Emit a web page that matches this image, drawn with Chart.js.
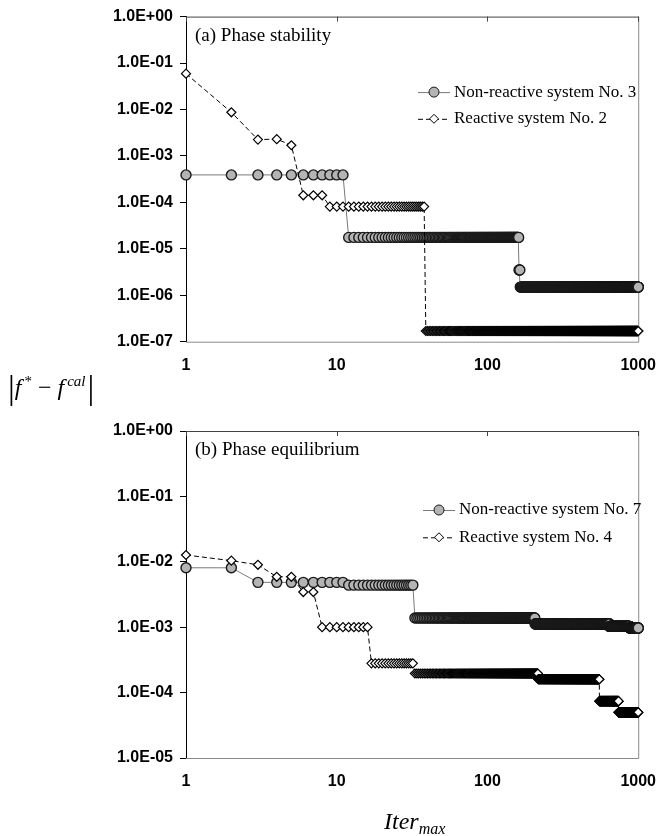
<!DOCTYPE html>
<html lang="en">
<head>
    <meta charset="UTF-8">
    <title>Iter max convergence</title>
    <style>
        body {
            margin: 0;
            background: #fff;
        }
        #page {
            position: relative;
            width: 670px;
            height: 836px;
        }
        .panel {
            position: absolute;
            left: 0;
            width: 670px;
        }
        #yTitle {
            position: absolute;
            left: 8px;
            top: 369px;
            font-family: 'Liberation Serif', serif;
            font-size: 24px;
            color: #000;
            white-space: nowrap;
        }
        #yTitle .bar {
            font-style: normal;
            font-size: 34px;
            vertical-align: -4px;
        }
        #yTitle sup {
            font-size: 15px;
            vertical-align: 9px;
            margin-left: 3px;
        }
        #yTitle .end {
            margin-left: 2px;
        }
        #xTitle {
            position: absolute;
            left: 384px;
            top: 808px;
            font-family: 'Liberation Serif', serif;
            font-style: italic;
            font-size: 24px;
            color: #000;
            white-space: nowrap;
        }
        #xTitle sub {
            font-size: 16px;
            vertical-align: -5px;
        }
    </style>
    <script src="https://cdn.jsdelivr.net/npm/chart.js"></script>
</head>
<body>
<div id="page">
    <div class="panel" style="top:0;height:395px"><canvas id="chartA"></canvas></div>
    <div class="panel" style="top:395px;height:441px"><canvas id="chartB"></canvas></div>
    <div id="yTitle"><span class="bar">|</span><i>f</i><sup>*</sup> &minus; <i>f</i><sup><i>cal</i></sup><span class="bar end">|</span></div>
    <div id="xTitle">Iter<sub>max</sub></div>
</div>

<script>
    // axes
    const lastIter = 1000;
    const xTickValues = [1, 10, 100, 1000];
    const xTickLabels = ['1', '10', '100', '1000'];
    const yTickValuesA = [1e-7, 1e-6, 1e-5, 1e-4, 1e-3, 1e-2, 1e-1, 1];
    const yTickLabelsA = ['1.0E-07', '1.0E-06', '1.0E-05', '1.0E-04', '1.0E-03', '1.0E-02', '1.0E-01', '1.0E+00'];
    const yTickValuesB = [1e-5, 1e-4, 1e-3, 1e-2, 1e-1, 1];
    const yTickLabelsB = ['1.0E-05', '1.0E-04', '1.0E-03', '1.0E-02', '1.0E-01', '1.0E+00'];

    // every series is a staircase: iteration where a level starts, and the level
    // (a) phase stability
    const nonReactive3Start = [1, 12, 162, 165];
    const nonReactive3Value = [3.9e-4, 1.76e-5, 3.5e-6, 1.5e-6];
    const reactive2Start = [1, 2, 3, 4, 5, 6, 9, 39];
    const reactive2Value = [5.9e-2, 8.7e-3, 2.25e-3, 2.3e-3, 1.7e-3, 1.42e-4, 8.1e-5, 1.7e-7];
    // (b) phase equilibrium
    const nonReactive7Start = [1, 3, 12, 33, 207, 646, 880];
    const nonReactive7Value = [8.1e-3, 4.85e-3, 4.4e-3, 1.38e-3, 1.12e-3, 1.03e-3, 9.7e-4];
    const reactive4Start = [1, 2, 3, 4, 6, 8, 17, 33, 217, 553, 741];
    const reactive4Value = [1.27e-2, 1.04e-2, 9.0e-3, 5.9e-3, 3.45e-3, 1.0e-3, 2.8e-4, 1.96e-4, 1.6e-4, 7.4e-5, 5.0e-5];

    const circleFill = '#b4b4b4';
    const circleEdge = '#1a1a1a';
    const solidLine = '#7a7a7a';

    // one point per iteration, holding the level of its step
    function stairs(starts, values) {
        const pts = [];
        for (let k = 0; k < starts.length; k++) {
            const end = k + 1 < starts.length ? starts[k + 1] - 1 : lastIter;
            for (let i = starts[k]; i <= end; i++) {
                pts.push({ x: i, y: values[k] });
            }
        }
        return pts;
    }

    // plot frame (Excel style: x axis line sits on top, ticks pointing down)
    const frame = {
        id: 'frame',
        beforeDatasetsDraw(chart) {
            const { ctx, chartArea: a, scales } = chart;
            ctx.save();
            ctx.lineWidth = 1;
            ctx.strokeStyle = '#8a8a8a';
            ctx.beginPath();
            ctx.moveTo(a.left, a.bottom + 0.5);
            ctx.lineTo(a.right + 0.5, a.bottom + 0.5);
            ctx.lineTo(a.right + 0.5, a.top);
            ctx.stroke();
            ctx.strokeStyle = '#444';
            ctx.beginPath();
            ctx.moveTo(a.left, a.top + 0.5);
            ctx.lineTo(a.right + 0.5, a.top + 0.5);
            xTickValues.forEach(v => {
                const px = Math.round(scales.x.getPixelForValue(v)) + 0.5;
                ctx.moveTo(px, a.top);
                ctx.lineTo(px, a.top + 5);
            });
            ctx.stroke();
            ctx.restore();
        }
    };

    // panel caption and in-plot legend
    const panelText = {
        id: 'panelText',
        afterDatasetsDraw(chart, args, o) {
            const { ctx, chartArea: a } = chart;
            ctx.save();
            ctx.fillStyle = '#000';
            ctx.textBaseline = 'middle';
            ctx.font = '19px "Liberation Serif"';
            ctx.fillText(o.caption, a.left + 9, a.top + 19);

            ctx.font = '17px "Liberation Serif"';
            o.entries.forEach((e, i) => {
                const y = a.top + o.legendY + i * o.legendGap;
                const x0 = o.legendX;
                const x1 = x0 + 32;
                const cx = (x0 + x1) / 2;
                ctx.lineWidth = 1;
                ctx.strokeStyle = e.dash ? '#000' : solidLine;
                ctx.setLineDash(e.dash ? [5, 3] : []);
                ctx.beginPath();
                ctx.moveTo(x0, y + 0.5);
                ctx.lineTo(x1, y + 0.5);
                ctx.stroke();
                ctx.setLineDash([]);
                ctx.beginPath();
                if (e.dash) {
                    ctx.moveTo(cx, y - 4.5);
                    ctx.lineTo(cx + 4.5, y);
                    ctx.lineTo(cx, y + 4.5);
                    ctx.lineTo(cx - 4.5, y);
                    ctx.closePath();
                    ctx.fillStyle = '#fff';
                    ctx.strokeStyle = '#000';
                } else {
                    ctx.arc(cx, y, 5, 0, Math.PI * 2);
                    ctx.fillStyle = circleFill;
                    ctx.strokeStyle = circleEdge;
                }
                ctx.fill();
                ctx.stroke();
                ctx.fillStyle = '#000';
                ctx.fillText(e.text, x1 + 4, y);
            });
            ctx.restore();
        }
    };

    function makeChart(id, cfg) {
        const tickFont = { family: '"Liberation Sans", Arial, sans-serif', size: 16, weight: 'bold' };
        return new Chart(document.getElementById(id), {
            type: 'line',
            data: {
                datasets: [
                    {
                        label: cfg.entries[0].text,
                        data: stairs(cfg.solidStart, cfg.solidValue),
                        borderColor: solidLine,
                        borderWidth: 1,
                        pointStyle: 'circle',
                        pointRadius: 5,
                        pointBackgroundColor: circleFill,
                        pointBorderColor: circleEdge,
                        pointBorderWidth: 1.4,
                        order: 2,
                        clip: false
                    },
                    {
                        label: cfg.entries[1].text,
                        data: stairs(cfg.dashStart, cfg.dashValue),
                        borderColor: '#000',
                        borderWidth: 1,
                        borderDash: [5, 3],
                        pointStyle: 'rectRot',
                        pointRadius: 4.5,
                        pointBackgroundColor: '#fff',
                        pointBorderColor: '#000',
                        pointBorderWidth: 1.2,
                        order: 1,
                        clip: false
                    }
                ]
            },
            options: {
                responsive: true,
                maintainAspectRatio: false,
                animation: false,
                events: [],
                layout: { padding: { top: cfg.top, right: 19, left: 0, bottom: 0 } },
                plugins: {
                    legend: { display: false },
                    tooltip: { enabled: false },
                    panelText: {
                        caption: cfg.caption,
                        entries: cfg.entries,
                        legendX: cfg.legendX,
                        legendY: cfg.legendY,
                        legendGap: cfg.legendGap
                    }
                },
                scales: {
                    x: {
                        type: 'logarithmic',
                        min: 1,
                        max: 1000,
                        afterBuildTicks: s => { s.ticks = xTickValues.map(v => ({ value: v })); },
                        afterFit: s => { s.height = cfg.xHeight; },
                        grid: { display: false, drawTicks: false },
                        border: { display: false },
                        ticks: {
                            color: '#000',
                            font: tickFont,
                            padding: 14,
                            maxRotation: 0,
                            callback: (v, i) => xTickLabels[i]
                        }
                    },
                    y: {
                        type: 'logarithmic',
                        min: cfg.yValues[0],
                        max: 1,
                        afterBuildTicks: s => { s.ticks = cfg.yValues.map(v => ({ value: v })); },
                        afterFit: s => { s.width = 186; },
                        grid: {
                            drawOnChartArea: false,
                            drawTicks: true,
                            tickLength: 6,
                            tickColor: '#000'
                        },
                        border: { display: true, color: '#000', width: 1 },
                        ticks: {
                            color: '#000',
                            font: tickFont,
                            padding: 7,
                            callback: (v, i) => cfg.yLabels[i]
                        }
                    }
                }
            },
            plugins: [frame, panelText]
        });
    }

    makeChart('chartA', {
        caption: '(a) Phase stability',
        entries: [
            { text: 'Non-reactive system No. 3', dash: false },
            { text: 'Reactive system No. 2', dash: true }
        ],
        solidStart: nonReactive3Start, solidValue: nonReactive3Value,
        dashStart: reactive2Start, dashValue: reactive2Value,
        yValues: yTickValuesA, yLabels: yTickLabelsA,
        top: 14.5, xHeight: 53.3,
        legendX: 418, legendY: 75.5, legendGap: 26.7
    });

    makeChart('chartB', {
        caption: '(b) Phase equilibrium',
        entries: [
            { text: 'Non-reactive system No. 7', dash: false },
            { text: 'Reactive system No. 4', dash: true }
        ],
        solidStart: nonReactive7Start, solidValue: nonReactive7Value,
        dashStart: reactive4Start, dashValue: reactive4Value,
        yValues: yTickValuesB, yLabels: yTickLabelsB,
        top: 36, xHeight: 78,
        legendX: 423, legendY: 79, legendGap: 27.3
    });
</script>
</body>
</html>
